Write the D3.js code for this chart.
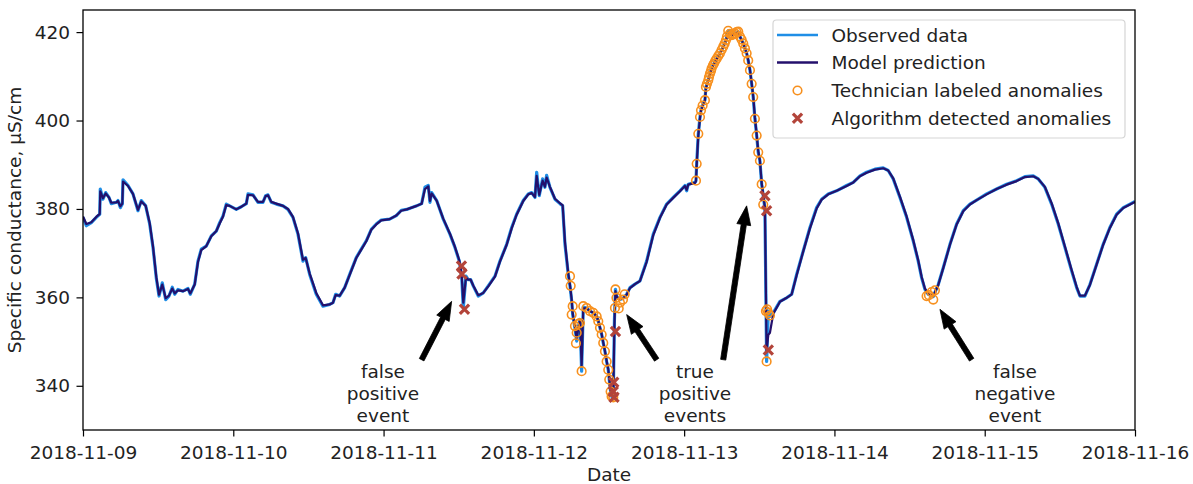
<!DOCTYPE html>
<html>
<head>
<meta charset="utf-8">
<script src="https://cdn.jsdelivr.net/npm/d3@7"></script>
<style>
  html, body { margin: 0; padding: 0; background: #fff; }
  svg { display: block; }
  text { font-family: "DejaVu Sans", sans-serif; fill: #222; }
</style>
</head>
<body>
<svg id="chart" width="1193" height="484"></svg>
<script>
// ---- data (hours since 2018-11-09 00:00) ----
const hours = [0.0,0.53,1.33,2.12,2.67,2.76,3.19,3.62,4.15,4.52,5.32,5.59,5.96,6.28,6.39,7.19,7.98,8.78,9.31,10.01,10.65,11.18,11.70,12.14,12.66,13.21,13.73,14.26,14.64,15.17,15.97,16.77,17.13,17.84,18.36,18.89,19.69,20.49,21.29,21.83,22.36,22.88,23.43,24.48,25.28,26.08,26.35,27.15,27.94,28.74,29.17,29.54,30.07,30.87,31.94,32.73,33.53,34.33,35.13,35.56,36.20,37.25,38.32,39.39,39.92,40.35,40.99,41.79,42.59,43.64,44.44,45.24,46.04,46.83,47.63,48.97,50.03,50.83,51.69,53.29,54.08,54.61,55.14,55.41,55.68,56.48,57.53,58.60,59.40,60.09,60.47,60.73,61.16,61.52,61.91,62.32,63.12,63.92,64.72,65.79,66.59,67.66,68.46,69.25,70.31,71.11,71.65,72.18,72.45,72.86,73.40,73.77,74.04,74.57,75.37,76.17,76.60,76.97,77.49,77.77,78.04,78.20,78.56,78.84,79.09,79.36,79.63,79.89,80.43,80.96,81.49,82.03,82.29,82.56,82.83,83.08,83.35,83.62,83.88,84.04,84.26,84.42,84.68,84.87,85.03,85.27,85.75,86.23,86.82,87.35,88.15,88.94,90.01,91.07,92.14,93.21,94.26,95.33,96.13,96.40,96.66,97.73,97.89,98.00,98.26,98.53,98.69,98.95,99.32,99.48,99.85,100.12,100.39,100.76,101.19,101.72,102.24,102.68,103.04,103.59,104.11,104.64,104.91,105.44,105.98,106.23,106.51,106.78,107.03,107.30,107.58,107.83,108.10,108.38,108.63,108.90,109.17,109.44,109.70,110.23,111.30,112.37,113.17,113.97,115.02,116.09,117.16,117.96,119.01,120.35,121.95,123.01,124.08,125.14,126.47,127.79,128.59,129.39,130.46,131.53,132.58,133.38,133.93,134.45,134.98,135.78,136.58,137.38,138.45,139.52,140.57,141.64,142.71,144.31,145.90,147.50,149.10,150.42,151.75,152.55,153.61,154.68,155.74,156.81,157.88,158.68,159.20,160.00,160.80,161.87,162.92,163.99,165.06,166.13,167.20,168.0];

const observed = [378.1,376.2,376.9,378.1,378.8,384.5,382.2,383.7,382.6,381.2,381.5,381.9,380.3,381.1,386.6,385.3,383.4,379.6,381.9,380.7,376.6,371.3,364.4,360.3,363.3,359.5,360.3,362.3,360.7,361.8,361.4,362.0,360.7,363.0,368.2,370.9,371.6,373.9,375.0,376.9,378.4,381.1,380.7,379.9,380.5,381.2,383.4,383.2,381.5,381.5,383.0,383.2,381.5,381.1,380.7,379.9,378.1,374.3,368.2,369.0,365.2,360.7,358.0,358.4,358.8,360.7,360.3,362.2,365.2,369.0,370.9,372.8,375.4,376.6,377.5,377.7,378.5,379.7,379.9,380.7,381.2,384.9,385.3,381.5,383.7,381.9,377.7,374.3,371.3,368.2,364.8,357.6,364.8,364.0,364.0,362.6,360.3,361.0,362.6,364.8,368.2,372.0,375.8,378.8,381.9,383.4,383.7,382.6,388.3,383.0,386.8,384.9,387.6,384.9,382.2,381.2,380.7,372.0,365.2,362.6,359.2,356.1,353.1,350.1,353.1,355.0,343.3,357.8,357.6,356.9,356.5,355.7,354.6,353.1,351.6,349.7,347.8,345.5,343.6,341.4,338.7,337.6,337.4,355.0,361.8,360.0,359.5,359.8,360.7,362.2,363.0,363.7,368.2,374.3,378.1,381.1,382.6,384.1,385.3,384.1,385.6,386.0,386.4,390.2,397.0,400.8,402.3,403.4,404.6,407.6,409.1,410.6,411.8,412.9,414.0,415.2,416.7,418.2,420.3,419.3,419.7,420.1,419.0,417.4,415.2,413.6,411.4,408.3,405.3,400.4,396.6,392.8,390.9,385.6,383.0,380.0,345.5,356.9,355.7,356.5,359.1,359.9,360.7,365.2,370.5,375.8,380.3,382.2,383.4,384.1,385.3,386.0,387.5,388.3,389.0,389.3,388.7,386.8,382.6,378.1,372.8,368.2,364.4,361.8,360.7,360.2,362.9,366.7,372.0,376.6,379.6,381.1,382.0,383.4,384.5,385.6,386.4,387.3,387.5,386.8,384.9,381.1,376.6,371.3,366.0,362.2,360.3,360.3,362.9,367.5,372.0,375.8,378.8,380.3,381.1,381.7];

const model = [378.3,376.6,377.0,378.2,378.9,384.0,382.4,383.5,382.6,381.4,381.5,381.8,380.6,381.2,386.2,385.2,383.4,379.8,381.7,380.7,376.8,371.5,364.7,360.6,362.9,359.8,360.4,362.0,360.9,361.6,361.4,361.9,360.9,362.9,368.0,370.7,371.6,373.8,375.0,376.7,378.3,380.9,380.7,379.9,380.5,381.2,383.2,383.1,381.6,381.6,382.9,383.1,381.6,381.2,380.7,380.0,378.2,374.5,368.5,368.9,365.4,361.0,358.2,358.4,358.8,360.5,360.4,362.2,365.1,368.9,370.8,372.7,375.3,376.5,377.4,377.7,378.5,379.6,379.9,380.7,381.2,384.5,385.1,381.8,383.5,381.9,377.8,374.4,371.4,368.4,365.2,358.8,364.5,364.0,364.0,362.7,360.5,361.0,362.5,364.7,368.1,371.9,375.6,378.7,381.8,383.3,383.6,382.7,387.5,383.2,386.4,385.0,387.1,385.0,382.3,381.3,380.8,372.5,365.5,362.8,359.5,356.4,353.4,350.6,353.0,354.8,344.5,357.5,357.5,356.9,356.5,355.7,354.7,353.2,351.7,349.8,347.9,345.7,343.8,341.6,339.0,337.9,337.8,354.0,361.4,360.1,359.6,359.8,360.6,362.1,363.0,363.7,368.0,374.1,378.0,381.0,382.5,384.0,385.2,384.3,385.5,385.9,386.3,389.8,396.6,400.5,402.2,403.3,404.6,407.3,409.0,410.5,411.7,412.8,413.9,415.1,416.6,418.1,419.9,419.3,419.6,419.9,419.0,417.4,415.3,413.7,411.5,408.5,405.5,400.7,396.9,393.1,391.0,385.9,383.2,380.3,348.0,351.5,352.0,356.3,359.0,359.9,360.7,365.0,370.4,375.6,380.1,382.1,383.3,384.1,385.2,386.0,387.4,388.2,388.9,389.2,388.7,386.9,382.8,378.3,373.0,368.4,364.6,362.0,360.8,360.3,362.8,366.6,371.9,376.5,379.5,381.0,382.0,383.3,384.5,385.5,386.3,387.2,387.4,386.8,385.0,381.3,376.8,371.5,366.2,362.4,360.4,360.4,362.8,367.4,371.9,375.7,378.7,380.2,381.0,381.6];

const techHours = [77.77,77.88,78.04,78.20,78.56,78.72,78.84,79.09,79.36,79.63,79.89,80.43,80.96,81.49,82.03,82.29,82.56,82.83,83.08,83.35,83.62,83.88,84.04,84.26,84.42,84.68,84.95,85.03,85.19,85.55,85.75,86.23,86.50,97.89,98.00,98.26,98.53,98.69,98.95,99.32,99.48,99.64,99.85,99.96,100.12,100.28,100.39,100.60,100.76,100.97,101.19,101.45,101.72,101.99,102.24,102.47,102.68,102.84,103.04,103.32,103.59,103.84,104.11,104.38,104.64,104.91,105.18,105.44,105.71,105.98,106.23,106.51,106.78,107.03,107.30,107.58,107.83,108.10,108.38,108.63,109.06,109.17,109.25,109.44,109.70,134.72,135.09,135.52,135.78,136.05];
const techValues = [364.8,362.6,356.1,358.0,353.5,349.6,352.0,354.0,354.2,343.3,358.0,357.6,356.9,356.5,355.7,354.6,353.1,351.6,349.7,347.8,345.5,343.6,341.4,338.7,337.6,337.4,357.6,361.8,359.9,357.5,358.8,359.5,360.7,386.4,390.2,397.0,400.8,402.3,403.4,404.6,407.6,408.3,409.1,409.8,410.6,411.2,411.8,412.5,412.9,413.5,414.0,414.6,415.2,416.0,416.7,417.4,418.2,419.0,420.3,419.6,419.3,419.5,419.7,420.0,420.1,419.0,418.3,417.4,416.3,415.2,413.6,411.4,408.3,405.3,400.4,396.6,392.8,390.9,385.6,381.0,356.9,345.5,357.3,356.5,355.9,360.3,360.5,361.2,359.5,361.6];

const algoHours = [60.44,60.52,60.92,84.76,84.68,84.80,85.03,108.90,109.17,109.44];
const algoValues = [367.1,365.3,357.3,340.8,338.7,337.4,352.3,383.0,379.6,348.1];

const xTickLabels = ["2018-11-09","2018-11-10","2018-11-11","2018-11-12","2018-11-13","2018-11-14","2018-11-15","2018-11-16"];
const yTickValues = [340,360,380,400,420];

const seriesNames = ["Observed data","Model prediction","Technician labeled anomalies","Algorithm detected anomalies"];

const annotationTexts = [["false","positive","event"],["true","positive","events"],["false","negative","event"]];
const annotationTextHours = [47.9,97.73,148.82];
const annotationTextValues = [343.3,343.3,343.3];
// arrows: tail and tip positions in data units
const arrowTailHours = [54.08,91.61,102.24,141.91];
const arrowTailValues = [345.9,345.9,345.9,345.9];
const arrowTipHours = [58.87,86.82,105.98,136.85];
const arrowTipValues = [359.1,356.1,380.7,357.3];

// ---- drawing ----
const W = 1193, H = 484;
const L = 83, R = 1135, T = 10, B = 430;
const FS = 18.5;
const cObs = "#1f8ee6", cModel = "#24106c", cTech = "#f7901e", cAlgo = "#b3443a";

const t0 = Date.UTC(2018,10,9);
const toDate = h => new Date(t0 + h*3600e3);
const parse = d3.utcParse("%Y-%m-%d");

const x = d3.scaleUtc().domain([parse(xTickLabels[0]), parse(xTickLabels[xTickLabels.length-1])]).range([L, R]);
const y = d3.scaleLinear().domain([330, 425]).range([B, T]);

const svg = d3.select("#chart");
svg.append("rect").attr("width", W).attr("height", H).attr("fill", "#fff");

const defs = svg.append("defs");
defs.append("clipPath").attr("id","clip").append("rect").attr("x",L).attr("y",T).attr("width",R-L).attr("height",B-T);

const plot = svg.append("g").attr("clip-path","url(#clip)");

const line = d3.line().x(d => x(toDate(d[0]))).y(d => y(d[1]));
const obsData = hours.map((h,i)=>[h, observed[i]]);
const modData = hours.map((h,i)=>[h, model[i]]);

plot.append("path").datum(obsData).attr("d", line).attr("fill","none").attr("stroke",cObs).attr("stroke-width",3.2).attr("stroke-linejoin","round");
plot.append("path").datum(modData).attr("d", line).attr("fill","none").attr("stroke",cModel).attr("stroke-width",2.2).attr("stroke-linejoin","round");

// technician circles
plot.selectAll("circle.tech").data(techHours.map((h,i)=>[h, techValues[i]])).join("circle")
  .attr("class","tech").attr("cx", d=>x(toDate(d[0]))).attr("cy", d=>y(d[1])).attr("r",4.3)
  .attr("fill","none").attr("stroke",cTech).attr("stroke-width",1.6);

// algorithm X markers
const xs = 4.6;
const xPath = (cx, cy) => `M${cx-xs},${cy-xs}L${cx+xs},${cy+xs}M${cx-xs},${cy+xs}L${cx+xs},${cy-xs}`;
plot.selectAll("path.algo").data(algoHours.map((h,i)=>[h, algoValues[i]])).join("path")
  .attr("class","algo").attr("d", d=>xPath(x(toDate(d[0])), y(d[1])))
  .attr("stroke",cAlgo).attr("stroke-width",3.2).attr("fill","none");

// axes
const xAxis = d3.axisBottom(x).tickValues(xTickLabels.map(parse)).tickFormat(d3.utcFormat("%Y-%m-%d")).tickSize(6.5).tickPadding(5);
const gx = svg.append("g").attr("transform",`translate(0,${B})`).call(xAxis);
gx.select(".domain").remove();
gx.selectAll(".tick line").attr("stroke","#000").attr("stroke-width",1.2);
gx.selectAll(".tick text").attr("font-size",FS).attr("font-family","DejaVu Sans").attr("fill","#222").attr("dy","0.95em");

const yAxis = d3.axisLeft(y).tickValues(yTickValues).tickSize(6.5).tickPadding(6.5);
const gy = svg.append("g").attr("transform",`translate(${L},0)`).call(yAxis);
gy.select(".domain").remove();
gy.selectAll(".tick line").attr("stroke","#000").attr("stroke-width",1.2);
gy.selectAll(".tick text").attr("font-size",FS).attr("font-family","DejaVu Sans").attr("fill","#222");

// frame
svg.append("rect").attr("x",L).attr("y",T).attr("width",R-L).attr("height",B-T).attr("fill","none").attr("stroke","#000").attr("stroke-width",1.3);

// axis labels
svg.append("text").attr("x",(L+R)/2).attr("y",481).attr("text-anchor","middle").attr("font-size",FS).text("Date");
svg.append("text").attr("transform",`translate(14,${(T+B)/2}) rotate(-90)`).attr("text-anchor","middle").attr("dominant-baseline","central").attr("font-size",FS).text("Specific conductance, µS/cm");

// annotations
annotationTexts.forEach((lines,i)=>{
  const t = svg.append("text").attr("text-anchor","middle").attr("font-size",FS)
    .attr("x", x(toDate(annotationTextHours[i]))).attr("y", y(annotationTextValues[i]));
  lines.forEach((s,j)=>{
    t.append("tspan").attr("x", x(toDate(annotationTextHours[i]))).attr("dy", j===0 ? "0.35em" : "1.2em").text(s);
  });
});

function arrowPoly(x1,y1,x2,y2){
  const dx=x2-x1, dy=y2-y1, len=Math.hypot(dx,dy);
  const ux=dx/len, uy=dy/len, px=-uy, py=ux;
  const hw=7, sw=2.6, hl=19;
  const bx=x2-ux*hl, by=y2-uy*hl;
  const pts=[[x1+px*sw,y1+py*sw],[bx+px*sw,by+py*sw],[bx+px*hw,by+py*hw],[x2,y2],[bx-px*hw,by-py*hw],[bx-px*sw,by-py*sw],[x1-px*sw,y1-py*sw]];
  return "M"+pts.map(p=>p.join(",")).join("L")+"Z";
}
arrowTailHours.forEach((h,i)=>{
  svg.append("path").attr("d", arrowPoly(x(toDate(h)), y(arrowTailValues[i]), x(toDate(arrowTipHours[i])), y(arrowTipValues[i])))
    .attr("fill","#000").attr("stroke","#000").attr("stroke-width",0.8);
});

// legend
const lg = svg.append("g");
lg.append("rect").attr("x",773).attr("y",20).attr("width",352).attr("height",118).attr("rx",3.5)
  .attr("fill","#fff").attr("fill-opacity",0.85).attr("stroke","#d5d5d5").attr("stroke-width",1.2);
const rowY = [35, 62.5, 90.5, 118.3];
lg.append("line").attr("x1",777).attr("x2",818).attr("y1",rowY[0]).attr("y2",rowY[0]).attr("stroke",cObs).attr("stroke-width",2.6);
lg.append("line").attr("x1",777).attr("x2",818).attr("y1",rowY[1]).attr("y2",rowY[1]).attr("stroke",cModel).attr("stroke-width",2.6);
lg.append("circle").attr("cx",797.5).attr("cy",rowY[2]).attr("r",4.3).attr("fill","none").attr("stroke",cTech).attr("stroke-width",1.6);
lg.append("path").attr("d",xPath(797.5,rowY[3])).attr("stroke",cAlgo).attr("stroke-width",3.2);
seriesNames.forEach((s,i)=>{
  lg.append("text").attr("x",831.5).attr("y",rowY[i]).attr("dominant-baseline","central").attr("font-size",FS).text(s);
});
</script>
</body>
</html>
